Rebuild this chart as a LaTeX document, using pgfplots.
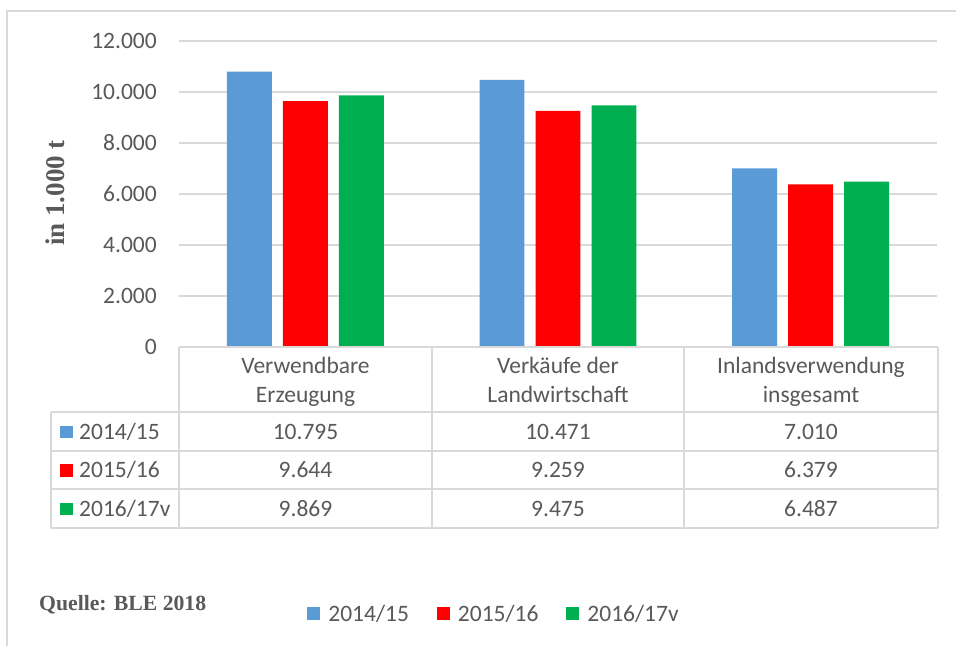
\documentclass[border=0pt]{standalone}
\usepackage{pgfplots}
\pgfplotsset{compat=1.18}
\usepackage{fontspec}
\setmainfont{Carlito}
\newfontfamily\tnr{Liberation Serif}
\definecolor{cblue}{HTML}{5B9BD5}
\definecolor{cred}{HTML}{FF0000}
\definecolor{cgreen}{HTML}{00B050}
\definecolor{gridc}{HTML}{D9D9D9}
\definecolor{txt}{HTML}{595959}
\newcommand\chartfont{\fontsize{23.5}{28.7}\selectfont}
\begin{document}
\begin{tikzpicture}[x=1pt,y=-1pt]
\useasboundingbox[fill=white] (0,0) rectangle (956,646);
\draw[gridc, line width=2pt] (6.5,646) -- (6.5,11) -- (956,11);
\begin{axis}[
  at={(179pt,-347pt)}, anchor=south west,
  scale only axis, width=758pt, height=306pt,
  xmin=-0.5, xmax=2.5, ymin=0, ymax=12000,
  xtick=\empty,
  ytick={0,2000,4000,6000,8000,10000,12000},
  scaled y ticks=false,
  /pgf/number format/1000 sep={.},
  /pgf/number format/assume math mode=true,
  ymajorgrids, grid style={gridc, line width=1.8pt},
  axis line style={draw=none},
  major tick length=0pt,
  yticklabel style={font=\chartfont, text=txt, inner sep=0pt, xshift=-22pt},
  every axis y label/.style={at={(axis description cs:-0.1636,0.503)}, rotate=90, anchor=center},
  ylabel={\tnr\bfseries\fontsize{27}{32}\selectfont in 1.000 t},
  ylabel style={text=txt},
  legend style={at={(axis description cs:0.4156,-0.8725)}, anchor=center, draw=none, fill=none,
    font=\chartfont, text=txt, inner sep=0pt,
    /tikz/every odd column/.append style={column sep=6pt},
    /tikz/every even column/.append style={column sep=26pt}},
  legend columns=3,
  legend image code/.code={\fill[#1] (0pt,-6.5pt) rectangle (13pt,6.5pt);},
]
\addplot[ybar, bar width=0.178, bar shift=-0.2216, fill=cblue, draw=none] coordinates {(0,10795) (1,10471) (2,7010)};
\addplot[ybar, bar width=0.178, bar shift=0, fill=cred, draw=none] coordinates {(0,9644) (1,9259) (2,6379)};
\addplot[ybar, bar width=0.178, bar shift=0.2216, fill=cgreen, draw=none] coordinates {(0,9869) (1,9475) (2,6487)};
\legend{2014/15,2015/16,2016/17v}
\end{axis}
% data table
\begin{scope}[gridc, line width=1.6pt]
\draw (179,347) -- (938,347);
\foreach \yy in {412,451,489,528} {\draw (51,\yy) -- (938,\yy);}
\draw (51,412) -- (51,528);
\foreach \xx in {179,432,684,938} {\draw (\xx,347) -- (\xx,528);}
\end{scope}
\begin{scope}[every node/.style={font=\chartfont, text=txt, inner sep=0pt}]
\node[anchor=base] at (305.5,373.5) {Verwendbare};
\node[anchor=base] at (305.5,402) {Erzeugung};
\node[anchor=base] at (558,373.5) {Verkäufe der};
\node[anchor=base] at (558,402) {Landwirtschaft};
\node[anchor=base] at (811,373.5) {Inlandsverwendung};
\node[anchor=base] at (811,402) {insgesamt};
\fill[cblue] (60,426) rectangle (73,438);
\fill[cred] (60,464) rectangle (73,477);
\fill[cgreen] (60,503) rectangle (73,515);
\node[anchor=west] at (79,431.5) {2014/15};
\node[anchor=west] at (79,470) {2015/16};
\node[anchor=west] at (79,508.5) {2016/17v};
\node at (305.5,431.5) {10.795};
\node at (558,431.5) {10.471};
\node at (811,431.5) {7.010};
\node at (305.5,470) {9.644};
\node at (558,470) {9.259};
\node at (811,470) {6.379};
\node at (305.5,508.5) {9.869};
\node at (558,508.5) {9.475};
\node at (811,508.5) {6.487};
\end{scope}
\node[anchor=west, inner sep=0pt, text=txt, font=\tnr\bfseries\fontsize{21.7}{26}\selectfont] at (39,605) {Quelle: BLE 2018};
\end{tikzpicture}
\end{document}
